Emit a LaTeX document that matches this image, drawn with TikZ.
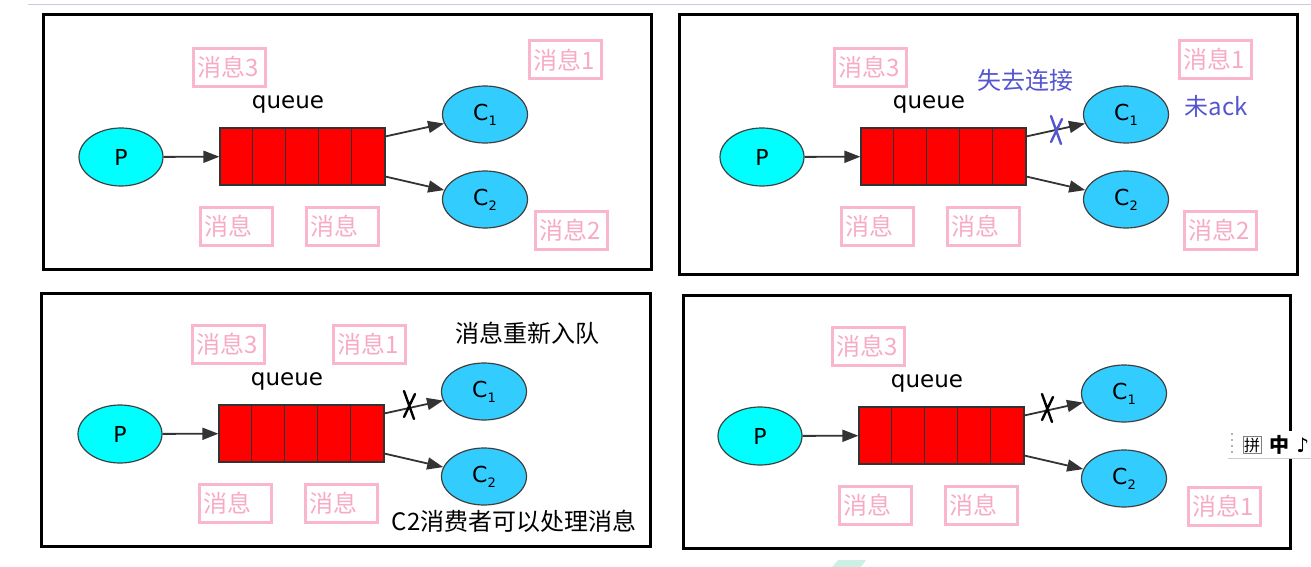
\documentclass[tikz,border=0pt]{standalone}
\usepackage{fontspec}
\setmainfont{Noto Sans CJK SC}
\newfontfamily\lat{DejaVu Sans}
\usetikzlibrary{arrows.meta,shapes.geometric}
\definecolor{qred}{RGB}{255,0,0}
\definecolor{pcyan}{RGB}{0,255,255}
\definecolor{cblue}{RGB}{51,204,255}
\definecolor{pinkline}{RGB}{250,182,204}
\definecolor{pinktext}{RGB}{247,170,196}
\definecolor{lostblue}{RGB}{85,85,210}
\definecolor{topgray}{RGB}{200,204,224}
\definecolor{wmark}{RGB}{205,240,230}
\newcommand\csub[1]{\raisebox{-2.5pt}{\fontsize{6.5}{7}\selectfont#1}}
\tikzstyle{producer}=[ellipse,draw=black!75,line width=0.6pt,fill=pcyan,minimum width=42pt,minimum height=29pt,inner sep=0pt,font=\lat\fontsize{11}{12}\selectfont]
\tikzstyle{consumer}=[producer,fill=cblue,minimum width=42.5pt,minimum height=28.5pt]
\tikzstyle{queuebox}=[draw=black!80,line width=0.6pt,fill=qred,minimum width=82.5pt,minimum height=28.5pt,inner sep=0pt]
\tikzstyle{msg}=[draw=pinkline,line width=1.5pt,text=pinktext,text width=32pt,inner xsep=2pt,minimum height=19pt,align=left,font=\fontsize{12}{14}\selectfont]
\tikzstyle{arr}=[draw=black!80,line width=0.9pt,-{Triangle[length=8pt,width=6pt]}]
\tikzstyle{panel}=[draw,line width=1.5pt]
\tikzstyle{note}=[font=\fontsize{12}{14}\selectfont]
\tikzset{cut/.pic={\draw[line width=1.2pt,line cap=round] (-5,-14) -- (5,14) (6,-11) -- (-5,12);}}

\begin{document}
\begin{tikzpicture}[x=0.5pt,y=-0.5pt]
    \useasboundingbox (0,0) rectangle (1311,567);
    \draw[topgray,line width=0.5pt] (28,5) -- (1311,5);
    \fill[wmark] (832,567) -- (838,560) -- (866,560) -- (861,567) -- cycle;

    % four frames
    \foreach \xa/\ya/\xb/\yb in {43/15/651/269, 679/15/1297/274,
    41/293/650/546, 683/295/1290/548}
        \draw[panel] (\xa,\ya) rectangle (\xb,\yb);

    % what every frame has
    \foreach \dx/\dy/\k in {0/0/a, 641/0/b, -1/277/c, 639/279/d}{
      \begin{scope}[shift={(\dx,\dy)}]
        \node[producer] (P\k) at (121,157) {P};
        \node[queuebox] (Q\k) at (302.5,156.5) {};
        \foreach \i in {1,...,4}
            \draw[black!80,line width=0.6pt] ([xshift=\i*16.5pt]Q\k.north west) -- ([xshift=\i*16.5pt]Q\k.south west);
        \node[font=\lat\fontsize{11.5}{12}\selectfont] (L\k) at (288,104) {queue};
        \node[consumer] (C1\k) at (485,114.5) {C\csub{1}};
        \node[consumer] (C2\k) at (485,199.5) {C\csub{2}};
        \path[arr] (P\k) -- (Q\k);
        \path[arr] ([yshift=-4.5pt]Q\k.north east) -- (C1\k);
        \path[arr] ([yshift=4.5pt]Q\k.south east) -- (C2\k);
        \node[msg] (m3\k) at (229,67.5) {消息3};
        \node[msg] (ma\k) at (236,226) {消息};
        \node[msg] (mb\k) at (342,226) {消息};
      \end{scope}
    }

    % frame 1
    \node[msg] (m1a) at (565.5,60) {消息1};
    \node[msg] (m2a) at (571,230) {消息2};

    % frame 2
    \node[msg] (m1b) at (1215,59.5) {消息1};
    \node[msg] (m2b) at (1220,230) {消息2};
    \node[note,text=lostblue] (lost) at (1025,80) {失去连接};
    \node[note,text=lostblue] (noack) at (1216,106) {未ack};
    \pic[color=lostblue] at (1056,130) {cut};

    % frame 3
    \node[msg] (m1c) at (369,344.5) {消息1};
    \node[note] (requeue) at (527,333) {消息重新入队};
    \node[note] (handle) at (514,521) {C2消费者可以处理消息};
    \pic at (409,405) {cut};

    % frame 4
    \node[msg] (m1d) at (1224,506) {消息1};
    \pic at (1047,408) {cut};

    % input bar
    \fill[white] (1228,431) rectangle (1311,458);
    \draw[gray!60,dotted,line width=1pt] (1232,433) -- (1232,456);
    \draw[gray!40,line width=0.5pt] (1228,458) -- (1311,458);
    \node[draw=gray,inner sep=0.5pt,font=\fontsize{8}{9}\selectfont] (pin) at (1252,445) {拼};
    \node[font=\bfseries\fontsize{10}{11}\selectfont] (zh) at (1279,445) {中};
    \node[font=\lat\bfseries\fontsize{10}{11}\selectfont,anchor=west,inner sep=0pt] (tone) at (1296,445) {♪};
\end{tikzpicture}
\end{document}
